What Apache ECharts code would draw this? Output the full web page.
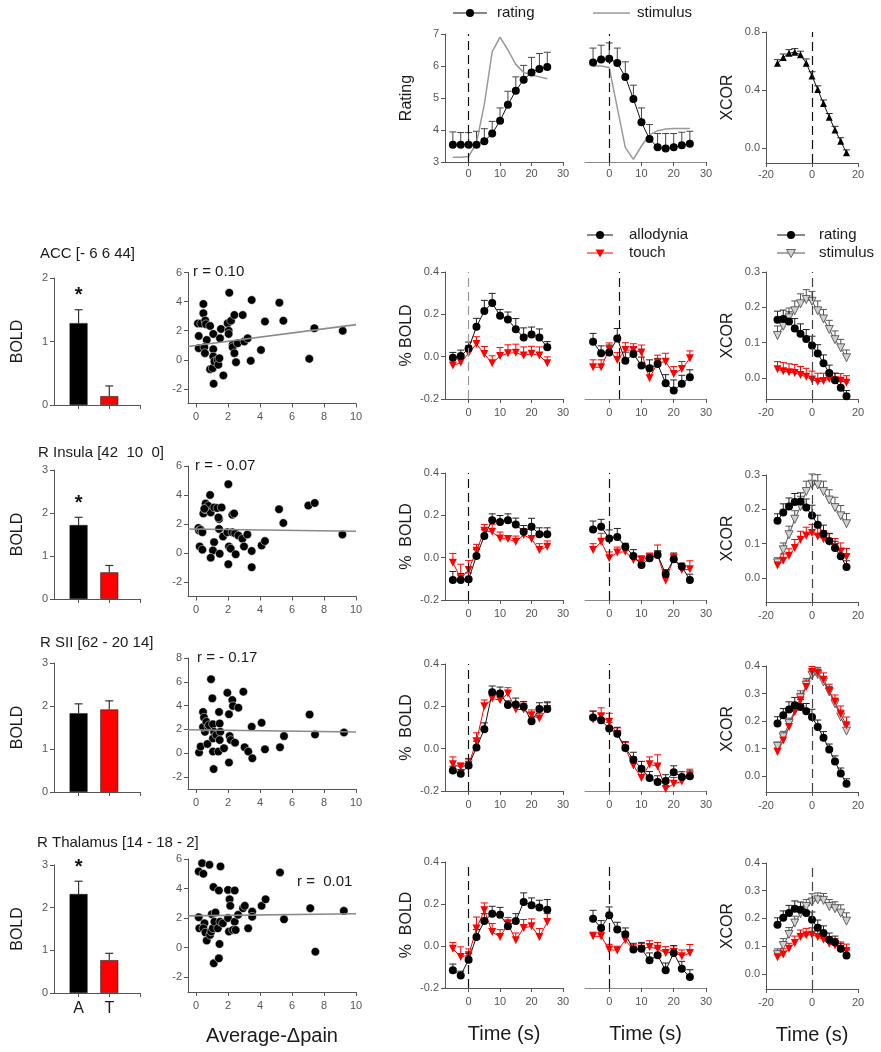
<!DOCTYPE html>
<html><head><meta charset="utf-8">
<script src="https://cdn.jsdelivr.net/npm/echarts@6/dist/echarts.min.js"></script>
<style>html,body{margin:0;padding:0;background:#fff}#c{width:881px;height:1052px}</style>
</head><body><div id="c"></div><script>
// ---------------- DATA ----------------
const timeLags = [-5,-2.5,0,2.5,5,7.5,10,12.5,15,17.5,20,22.5,25];
const xcorLags = [-15,-12.5,-10,-7.5,-5,-2.5,0,2.5,5,7.5,10,12.5,15];
const barLabels = ['A','T'];

// top row: ratings
const ratingOn = [3.54,3.54,3.54,3.54,3.65,3.89,4.29,4.79,5.23,5.57,5.80,5.91,5.97];
const ratingOnErr = [0.40,0.38,0.38,0.42,0.39,0.38,0.40,0.42,0.43,0.45,0.47,0.48,0.46];
const stimOn = [3.15,3.15,3.17,3.6,4.8,6.45,6.9,6.5,6.05,5.8,5.72,5.66,5.6];
const ratingOff = [6.11,6.2,6.23,6.09,5.66,4.97,4.24,3.72,3.46,3.42,3.46,3.52,3.57];
const ratingOffErr = [0.45,0.45,0.49,0.47,0.47,0.43,0.45,0.45,0.43,0.47,0.43,0.41,0.39];
const stimOff = [6.0,6.0,5.95,4.7,3.45,3.08,3.5,3.85,3.98,4.03,4.05,4.05,4.05];
const xcorTop = [0.585,0.624,0.654,0.661,0.643,0.585,0.497,0.405,0.308,0.215,0.127,0.049,-0.03];
const xcorTopErr = [0.025,0.025,0.025,0.025,0.025,0.03,0.03,0.025,0.025,0.025,0.025,0.025,0.02];

// region titles and correlation labels
const titles = ['ACC [- 6 6 44]','R Insula [42  10  0]','R SII [62 - 20 14]','R Thalamus [14 - 18 - 2]'];
const rLabels = ['r = 0.10','r = - 0.07','r = - 0.17','r =  0.01'];
const stars = [true,true,false,true];

// bars: [allodynia, touch]
const barACC = [1.29,0.14], barACCErr = [0.21,0.16];
const barIns = [1.72,0.62], barInsErr = [0.18,0.16];
const barSII = [1.83,1.92], barSIIErr = [0.22,0.20];
const barTha = [2.32,0.77], barThaErr = [0.30,0.16];

// scatter (Average-Δpain, BOLD)
const scatACC = [[0.17,1.64],[0.17,0.8],[0.12,2.5],[0.32,2.5],[0.46,3.2],[0.46,3.84],[0.58,2.7],[0.62,2.45],[0.67,1.37],[0.52,0.87],[0.56,0.46],[0.88,2.33],[1.08,1.78],[0.88,-0.64],[1.04,-0.57],[1.08,0.73],[1.08,0.23],[1.15,-0.11],[1.1,-1.64],[1.35,0],[1.4,-0.34],[1.46,0.11],[1.5,1.48],[1.56,2.12],[1.71,-1.07],[1.98,2.51],[2.04,2.0],[2.04,1.78],[2.08,4.61],[2.19,2.69],[2.29,1.03],[2.29,0.87],[2.4,3.08],[2.4,0.46],[2.5,-0.16],[2.6,1.14],[2.92,3.08],[3.02,1.26],[3.23,1.48],[3.48,4.11],[3.42,-0.07],[4.06,0.68],[4.31,2.63],[5.21,3.93],[5.46,2.69],[7.08,0.07],[7.4,2.17],[9.17,1.99]];
const scatIns = [[0.15,1.73],[0.19,1.55],[0.29,1.6],[0.4,1.43],[0.23,0.45],[0.4,0.23],[0.46,2.73],[0.56,3.02],[0.6,3.41],[0.77,3.25],[0.88,4.0],[0.92,2.8],[1.13,0.75],[1.06,0.18],[0.92,-0.32],[1.13,3.14],[1.33,3.1],[1.44,2.34],[1.44,1.66],[1.48,-0.05],[1.6,3.14],[1.69,1.14],[1.96,1.43],[2.02,4.75],[2.06,0.45],[2.02,-0.77],[2.17,0.3],[2.27,2.64],[2.38,2.73],[2.27,1.43],[2.44,1.36],[2.48,-0.09],[2.65,1.2],[2.9,0.98],[3.0,0.45],[3.21,1.27],[3.48,0.14],[3.48,-0.98],[4.1,0.52],[4.31,0.82],[5.19,3.02],[5.46,2.07],[7.02,3.27],[7.42,3.45],[9.15,1.27],[0.52,3.05],[1.4,2.45]];
const scatSII = [[0.19,0.06],[0.29,0.56],[0.44,3.47],[0.5,3.0],[0.56,1.8],[0.44,2.2],[0.65,2.64],[0.77,2.22],[0.81,2.36],[0.71,0.78],[0.94,6.22],[1.02,4.61],[1.06,2.44],[1.13,1.8],[1.06,1.25],[1.06,0.14],[1.1,-1.33],[1.27,1.53],[1.4,0.14],[1.44,3.47],[1.48,2.5],[1.52,1.8],[1.48,1.11],[1.75,0.42],[1.96,5.08],[2.06,3.28],[2.06,-0.78],[2.1,1.44],[2.17,1.11],[2.27,4.47],[2.31,3.97],[2.44,0.89],[2.65,3.83],[2.96,5.17],[3.04,0.5],[3.27,0.14],[3.48,2.22],[3.52,-0.42],[4.1,2.56],[4.31,0.33],[5.25,0.5],[5.5,1.44],[7.1,3.25],[7.44,1.58],[9.25,1.75]];
const scatTha = [[0.17,2.06],[0.17,5.16],[0.21,1.31],[0.38,5.72],[0.46,5.0],[0.53,1.65],[0.46,1.31],[0.59,1.02],[0.67,0.48],[0.84,5.61],[0.88,0.86],[0.95,1.09],[0.99,2.26],[1.05,1.31],[1.09,4.1],[1.11,-1.06],[1.15,1.76],[1.22,2.38],[1.37,1.31],[1.43,3.87],[1.47,0.25],[1.43,-0.72],[1.51,1.76],[1.53,5.5],[1.68,1.65],[2.0,3.91],[2.0,2.0],[2.06,1.09],[2.1,3.27],[2.14,2.83],[2.31,1.2],[2.42,3.87],[2.42,1.76],[2.48,1.2],[2.63,2.22],[2.94,2.67],[3.05,2.83],[3.26,1.31],[3.51,2.44],[3.51,2.1],[4.1,2.83],[4.35,3.27],[5.25,5.09],[5.5,1.92],[7.14,2.67],[7.46,-0.27],[9.24,2.49]];

// regression line end points
const fitACC = [[-0.5,0.92],[10,2.42]];
const fitIns = [[-0.5,1.66],[10,1.5]];
const fitSII = [[-0.5,1.98],[10,1.78]];
const fitTha = [[-0.5,2.15],[10,2.3]];

// BOLD time courses (onset / offset), allodynia (A) and touch (T)
const accOnA = [-0.005,0.003,0.039,0.141,0.216,0.254,0.193,0.176,0.13,0.091,0.105,0.091,0.044];
const accOnAErr = [0.025,0.028,0.03,0.04,0.05,0.045,0.03,0.035,0.05,0.045,0.035,0.04,0.027];
const accOnT = [-0.042,-0.028,0.016,0.06,0.013,-0.031,0.003,0.016,0.019,0.006,0.014,0.006,-0.031];
const accOnTErr = [0.035,0.03,0.035,0.034,0.035,0.035,0.04,0.04,0.04,0.04,0.035,0.04,0.03];
const accOffA = [0.07,0.016,0.02,0.086,-0.019,0.013,-0.042,-0.055,-0.035,-0.125,-0.16,-0.128,-0.097];
const accOffAErr = [0.04,0.035,0.035,0.047,0.04,0.03,0.04,0.04,0.027,0.04,0.05,0.04,0.035];
const accOffT = [-0.05,-0.05,0.035,-0.016,0.031,0.031,0.02,-0.102,-0.028,-0.024,-0.082,-0.058,-0.008];
const accOffTErr = [0.035,0.035,0.03,0.035,0.035,0.03,0.035,0.04,0.035,0.04,0.035,0.035,0.035];

const insOnA = [-0.105,-0.105,-0.102,0.008,0.102,0.177,0.169,0.177,0.157,0.122,0.146,0.111,0.111];
const insOnAErr = [0.04,0.03,0.03,0.03,0.03,0.03,0.03,0.03,0.03,0.03,0.04,0.03,0.03];
const insOnT = [-0.024,-0.097,-0.058,0.033,0.127,0.122,0.091,0.088,0.075,0.107,0.088,0.036,0.052];
const insOnTErr = [0.044,0.066,0.044,0.03,0.03,0.036,0.03,0.015,0.027,0.03,0.045,0.03,0.027];
const insOffA = [0.133,0.146,0.091,0.098,0.052,0.008,-0.035,-0.003,0.013,-0.077,-0.008,-0.042,-0.105];
const insOffAErr = [0.04,0.035,0.04,0.04,0.016,0.03,0.02,0.02,0.02,0.02,0.03,0.016,0.027];
const insOffT = [0.036,0.075,-0.003,0.025,0.028,-0.011,-0.011,0.002,0.013,-0.108,-0.003,-0.058,-0.055];
const insOffTErr = [0.03,0.04,0.03,0.025,0.02,0.015,0.02,0.02,0.047,0.05,0.02,0.02,0.04];

const siiOnA = [-0.103,-0.119,-0.079,0.005,0.092,0.266,0.261,0.206,0.209,0.198,0.13,0.187,0.187];
const siiOnAErr = [0.02,0.02,0.03,0.03,0.03,0.03,0.03,0.02,0.03,0.025,0.02,0.03,0.03];
const siiOnT = [-0.074,-0.087,-0.076,0.035,0.2,0.237,0.229,0.261,0.185,0.185,0.158,0.142,0.187];
const siiOnTErr = [0.035,0.02,0.03,0.04,0.03,0.03,0.03,0.027,0.03,0.03,0.025,0.025,0.035];
const siiOffA = [0.147,0.134,0.095,0.071,0.003,-0.052,-0.095,-0.138,-0.158,-0.153,-0.111,-0.134,-0.13];
const siiOffAErr = [0.03,0.03,0.03,0.03,0.03,0.035,0.035,0.03,0.03,0.03,0.03,0.025,0.025];
const siiOffT = [0.138,0.153,0.127,0.068,0,-0.079,-0.138,-0.074,-0.084,-0.19,-0.166,-0.155,-0.127];
const siiOffTErr = [0.04,0.04,0.04,0.03,0.03,0.04,0.03,0.035,0.055,0.03,0.03,0.03,0.03];

const thaOnA = [-0.116,-0.14,-0.065,0.043,0.119,0.154,0.149,0.094,0.119,0.21,0.194,0.183,0.173];
const thaOnAErr = [0.03,0.02,0.03,0.035,0.035,0.035,0.035,0.03,0.035,0.043,0.035,0.035,0.048];
const thaOnT = [-0.013,-0.052,-0.044,0.083,0.17,0.067,0.043,0.106,0.027,0.086,0.094,0.043,0.114];
const thaOnTErr = [0.03,0.048,0.03,0.055,0.035,0.04,0.035,0.03,0.035,0.04,0.035,0.04,0.04];
const thaOffA = [0.13,0.086,0.146,0.078,0.056,-0.017,-0.013,-0.068,-0.044,-0.116,-0.033,-0.108,-0.148];
const thaOffAErr = [0.04,0.035,0.04,0.035,0.03,0.03,0.03,0.035,0.035,0.035,0.035,0.035,0.035];
const thaOffT = [0.046,0.046,-0.017,-0.021,0.027,-0.017,-0.013,-0.005,-0.013,-0.033,-0.029,-0.049,-0.033];
const thaOffTErr = [0.02,0.02,0.025,0.02,0.025,0.025,0.025,0.03,0.03,0.03,0.03,0.03,0.04];

// cross-correlations: rating (R), stimulus (S), touch (T)
const accXR = [0.165,0.167,0.16,0.14,0.125,0.11,0.092,0.069,0.041,0.014,-0.007,-0.028,-0.052];
const accXRErr = [0.024,0.025,0.027,0.028,0.028,0.027,0.026,0.025,0.024,0.022,0.02,0.018,0.016];
const accXS = [0.12,0.146,0.17,0.19,0.21,0.222,0.217,0.19,0.167,0.137,0.108,0.085,0.057];
const accXSErr = [0.027,0.028,0.028,0.028,0.028,0.028,0.028,0.028,0.027,0.026,0.025,0.024,0.022];
const accXT = [0.024,0.019,0.016,0.014,0.008,0.003,-0.005,-0.011,-0.009,-0.003,-0.007,-0.008,-0.014];
const accXTErr = [0.022,0.024,0.024,0.024,0.024,0.024,0.024,0.024,0.022,0.022,0.02,0.02,0.02];

const insXR = [0.167,0.191,0.208,0.221,0.223,0.205,0.182,0.155,0.129,0.108,0.087,0.063,0.032];
const insXRErr = [0.02,0.025,0.025,0.025,0.025,0.025,0.03,0.028,0.025,0.022,0.02,0.02,0.018];
const insXS = [0.044,0.082,0.126,0.171,0.208,0.252,0.273,0.271,0.252,0.227,0.205,0.181,0.158];
const insXSErr = [0.015,0.02,0.025,0.025,0.03,0.03,0.03,0.03,0.03,0.03,0.03,0.03,0.03];
const insXT = [0.036,0.05,0.065,0.087,0.111,0.123,0.131,0.121,0.113,0.104,0.09,0.077,0.061];
const insXTErr = [0.015,0.02,0.02,0.025,0.025,0.025,0.025,0.025,0.025,0.025,0.025,0.025,0.025];

const siiXR = [0.191,0.221,0.242,0.258,0.251,0.236,0.215,0.179,0.14,0.097,0.054,0.01,-0.027];
const siiXRErr = [0.025,0.025,0.028,0.028,0.028,0.028,0.028,0.025,0.022,0.02,0.02,0.02,0.018];
const siiXS = [0.109,0.143,0.191,0.239,0.285,0.33,0.366,0.369,0.342,0.306,0.263,0.215,0.164];
const siiXSErr = [0.015,0.02,0.02,0.025,0.025,0.025,0.02,0.02,0.02,0.02,0.02,0.025,0.025];
const siiXT = [0.088,0.13,0.179,0.233,0.276,0.324,0.378,0.375,0.35,0.309,0.27,0.225,0.185];
const siiXTErr = [0.015,0.02,0.02,0.025,0.025,0.025,0.02,0.02,0.025,0.025,0.025,0.03,0.03];

const thaXR = [0.177,0.202,0.219,0.235,0.231,0.219,0.195,0.166,0.147,0.123,0.114,0.09,0.066];
const thaXRErr = [0.025,0.025,0.028,0.028,0.028,0.028,0.028,0.028,0.026,0.024,0.022,0.02,0.02];
const thaXS = [0.07,0.102,0.142,0.183,0.217,0.243,0.259,0.267,0.265,0.243,0.235,0.219,0.19];
const thaXSErr = [0.02,0.025,0.025,0.025,0.025,0.025,0.03,0.025,0.025,0.025,0.025,0.03,0.03];
const thaXT = [0.06,0.07,0.09,0.111,0.133,0.139,0.141,0.133,0.123,0.108,0.102,0.09,0.082];
const thaXTErr = [0.015,0.02,0.02,0.025,0.025,0.025,0.025,0.025,0.025,0.025,0.025,0.025,0.025];

// stimulus-onset/offset marker positions (s)
const onsetMark = [0,0,0,0];
const offsetMark = [3,0,0,0];

// tick values
const tcTicks = [0,10,20,30];
const xcTicks = [-20,0,20];
const scatXTicks = [0,2,4,6,8,10];
const boldTicks = [-0.2,0,0.2,0.4];
const ratingTicks = [3,4,5,6,7];
const xcTopTicks = [0,0.4,0.8];
const xcRowTicks = [[0,0.1,0.2,0.3],[0,0.1,0.2,0.3],[0,0.1,0.2,0.3,0.4],[0,0.1,0.2,0.3,0.4]];
const xcRowMin = [-0.06,-0.07,-0.057,-0.055];
const xcRowMax = [0.3,0.3,0.4,0.4];
const scatYTicks = [[-2,0,2,4,6],[-2,0,2,4,6],[-2,0,2,4,6,8],[-2,0,2,4,6]];
const scatYMax = [6,6,8,6];
const barYMax = [2,3,3,3];

// ---------------- BUILD ----------------
const FONT = '"Liberation Sans", Arial, Helvetica, sans-serif';
const grids = [], xAxis = [], yAxis = [], series = [], graphic = [];
const RED = '#ff0000';

function axis(o, gi) {
  return {
    type: 'value', gridIndex: gi, min: o.min, max: o.max, show: o.show !== false,
    axisLine: { show: o.line !== false, onZero: false, lineStyle: { color: o.lineColor || '#555', width: 1 } },
    axisTick: { show: !!o.ticks, length: 4, lineStyle: { color: '#555' }, customValues: o.ticks || undefined },
    axisLabel: { show: !!o.labels, customValues: o.labels || undefined, formatter: o.fmt,
      color: o.labelColor || '#555', fontSize: o.labelSize || 11, fontFamily: FONT, margin: o.margin || 6 },
    splitLine: { show: false },
    name: o.name || '', nameLocation: 'middle', nameGap: o.nameGap || 30,
    nameRotate: o.nameRotate, nameTextStyle: { fontSize: o.nameSize || 16, color: '#1a1a1a', fontFamily: FONT }
  };
}
function panel(pos, xo, yo) {
  const gi = grids.length;
  grids.push({ left: pos[0], top: pos[1], width: pos[2], height: pos[3], containLabel: false });
  xAxis.push(axis(xo, gi));
  yAxis.push(axis(yo, gi));
  return gi;
}
function dashLine(x, color) {
  return { silent: true, symbol: ['none', 'none'], label: { show: false }, animation: false,
    lineStyle: { type: [9, 5], color: color || '#111', width: 1.2 }, data: [{ xAxis: x }] };
}
function lineS(gi, xs, ys, st, mark) {
  const s = {
    type: 'line', xAxisIndex: gi, yAxisIndex: gi, data: xs.map((x, i) => [x, ys[i]]),
    symbol: st.symbol || 'none', showSymbol: !!st.symbol, symbolSize: st.size || 8, symbolRotate: st.rot || 0,
    lineStyle: { color: st.line, width: st.lw || 1 },
    itemStyle: { color: st.fill || st.line, borderColor: st.stroke || st.fill || st.line, borderWidth: st.bw || 0, opacity: 1 },
    z: 4, animation: false, silent: true
  };
  if (mark) s.markLine = mark;
  series.push(s);
}
function errS(gi, xs, ys, es, color) {
  series.push({
    type: 'custom', xAxisIndex: gi, yAxisIndex: gi, z: 3, animation: false, silent: true,
    data: xs.map((x, i) => [x, ys[i], ys[i] + es[i]]),
    renderItem: (p, api) => {
      const a = api.coord([api.value(0), api.value(1)]);
      const b = api.coord([api.value(0), api.value(2)]);
      return { type: 'group', children: [
        { type: 'line', shape: { x1: a[0], y1: a[1], x2: b[0], y2: b[1] }, style: { stroke: color, lineWidth: 1 } },
        { type: 'line', shape: { x1: b[0] - 3.5, y1: b[1], x2: b[0] + 3.5, y2: b[1] }, style: { stroke: color, lineWidth: 1 } }
      ]};
    }
  });
}
const STY = {
  A: { symbol: 'circle', size: 8, line: '#111', fill: '#000' },
  T: { symbol: 'triangle', rot: 180, size: 8, line: RED, fill: RED },
  S: { symbol: 'triangle', rot: 180, size: 8, line: '#555', fill: '#d0d0d0', stroke: '#444', bw: 0.8 }
};
const fmt1 = v => (Math.abs(v) < 1e-9 ? 0 : v).toFixed(1);

// ---- top row ----
{
  const g1 = panel([445, 34, 118, 128],
    { min: -7.5, max: 30, ticks: tcTicks, labels: tcTicks },
    { min: 3, max: 7, ticks: ratingTicks, labels: ratingTicks, name: 'Rating', nameGap: 30, nameRotate: 90 });
  lineS(g1, timeLags, stimOn, { line: '#999', lw: 1.5 }, dashLine(0));
  errS(g1, timeLags, ratingOn, ratingOnErr, '#444');
  lineS(g1, timeLags, ratingOn, STY.A);

  const g2 = panel([585, 34, 121, 128],
    { min: -7.5, max: 30, ticks: tcTicks, labels: tcTicks, lineColor: '#888' },
    { min: 3, max: 7, show: false });
  lineS(g2, timeLags, stimOff, { line: '#999', lw: 1.5 }, dashLine(0));
  errS(g2, timeLags, ratingOff, ratingOffErr, '#444');
  lineS(g2, timeLags, ratingOff, STY.A);

  const g3 = panel([766, 32, 92, 131],
    { min: -20, max: 20, ticks: xcTicks, labels: xcTicks },
    { min: -0.1, max: 0.8, ticks: xcTopTicks, labels: xcTopTicks, fmt: fmt1, name: 'XCOR', nameGap: 30, nameRotate: 90 });
  errS(g3, xcorLags, xcorTop, xcorTopErr, '#333');
  lineS(g3, xcorLags, xcorTop, { symbol: 'triangle', size: 7, line: '#111', fill: '#000' }, dashLine(0));
}

// ---- region rows ----
const rows = [
  { bar: barACC, barErr: barACCErr, pts: scatACC, fit: fitACC,
    onA: accOnA, onAE: accOnAErr, onT: accOnT, onTE: accOnTErr, offA: accOffA, offAE: accOffAErr, offT: accOffT, offTE: accOffTErr,
    xR: accXR, xRE: accXRErr, xS: accXS, xSE: accXSErr, xT: accXT, xTE: accXTErr },
  { bar: barIns, barErr: barInsErr, pts: scatIns, fit: fitIns,
    onA: insOnA, onAE: insOnAErr, onT: insOnT, onTE: insOnTErr, offA: insOffA, offAE: insOffAErr, offT: insOffT, offTE: insOffTErr,
    xR: insXR, xRE: insXRErr, xS: insXS, xSE: insXSErr, xT: insXT, xTE: insXTErr },
  { bar: barSII, barErr: barSIIErr, pts: scatSII, fit: fitSII,
    onA: siiOnA, onAE: siiOnAErr, onT: siiOnT, onTE: siiOnTErr, offA: siiOffA, offAE: siiOffAErr, offT: siiOffT, offTE: siiOffTErr,
    xR: siiXR, xRE: siiXRErr, xS: siiXS, xSE: siiXSErr, xT: siiXT, xTE: siiXTErr },
  { bar: barTha, barErr: barThaErr, pts: scatTha, fit: fitTha,
    onA: thaOnA, onAE: thaOnAErr, onT: thaOnT, onTE: thaOnTErr, offA: thaOffA, offAE: thaOffAErr, offT: thaOffT, offTE: thaOffTErr,
    xR: thaXR, xRE: thaXRErr, xS: thaXS, xSE: thaXSErr, xT: thaXT, xTE: thaXTErr }
];
// layout (pixels)
const barPos = [[54, 278, 86, 127], [54, 470, 86, 129], [54, 663, 86, 129], [54, 865, 86, 128]];
const scatPos = [[188, 272.5, 168, 131], [188, 466, 168, 130.5], [188, 658, 168, 131], [188, 859, 168, 133]];
const onPos = [[445, 272, 118, 127], [445, 473, 118, 127], [445, 664, 118, 127], [445, 862, 118, 126]];
const offPos = [[585, 272, 121, 127], [585, 473, 121, 127], [585, 664, 121, 127], [585, 862, 121, 126]];
const xcPos = [[766, 272, 92, 127], [766, 475, 92, 127], [766, 666, 92, 126], [766, 863, 92, 126]];
const titlePos = [[40, 254], [38, 453], [40, 643], [37, 843]];
const rPos = [[193, 272], [195, 466], [197, 658], [297, 882]];

rows.forEach((r, k) => {
  const last = k === rows.length - 1;
  // bar chart
  const gb = panel(barPos[k],
    { min: 0.2, max: 3, ticks: [1, 2, 3], labels: last ? [1, 2] : null, fmt: v => barLabels[Math.round(v) - 1] || '',
      labelSize: 16, labelColor: '#1a1a1a', margin: 8 },
    { min: 0, max: barYMax[k], ticks: k === 0 ? [0, 1, 2] : [0, 1, 2, 3], labels: k === 0 ? [0, 1, 2] : [0, 1, 2, 3],
      name: 'BOLD', nameGap: 28, nameRotate: 90 });
  series.push({ type: 'bar', xAxisIndex: gb, yAxisIndex: gb, barWidth: 18, animation: false, silent: true, z: 2,
    itemStyle: { borderColor: '#222', borderWidth: 0.6 },
    data: [{ value: [1, r.bar[0]], itemStyle: { color: '#000' } }, { value: [2, r.bar[1]], itemStyle: { color: RED } }] });
  series.push({ type: 'custom', xAxisIndex: gb, yAxisIndex: gb, z: 3, animation: false, silent: true,
    data: [[1, r.bar[0], r.bar[0] + r.barErr[0], stars[k] ? 1 : 0], [2, r.bar[1], r.bar[1] + r.barErr[1], 0]],
    renderItem: (p, api) => {
      const a = api.coord([api.value(0), api.value(1)]);
      const b = api.coord([api.value(0), api.value(2)]);
      const ch = [
        { type: 'line', shape: { x1: a[0], y1: a[1], x2: b[0], y2: b[1] }, style: { stroke: '#333', lineWidth: 1.2 } },
        { type: 'line', shape: { x1: b[0] - 4, y1: b[1], x2: b[0] + 4, y2: b[1] }, style: { stroke: '#333', lineWidth: 1.2 } }
      ];
      if (api.value(3)) ch.push({ type: 'text', x: b[0], y: b[1] - 4,
        style: { text: '*', fill: '#111', font: 'bold 20px ' + FONT, align: 'center', verticalAlign: 'bottom' } });
      return { type: 'group', children: ch };
    } });

  // scatter
  const gs = panel(scatPos[k],
    { min: -0.5, max: 10, ticks: scatXTicks, labels: scatXTicks, margin: 8,
      name: last ? 'Average-\u0394pain' : '', nameSize: 20, nameGap: 34 },
    { min: -3, max: scatYMax[k], ticks: scatYTicks[k], labels: scatYTicks[k] });
  series.push({ type: 'scatter', xAxisIndex: gs, yAxisIndex: gs, data: r.pts, symbolSize: 8.5, animation: false, silent: true,
    itemStyle: { color: '#000', borderColor: '#fff', borderWidth: 0.5, opacity: 1 }, z: 3 });
  series.push({ type: 'line', xAxisIndex: gs, yAxisIndex: gs, data: r.fit, showSymbol: false, symbol: 'none',
    lineStyle: { color: '#8a8a8a', width: 1.6 }, animation: false, silent: true, z: 4 });

  // onset time course
  const go = panel(onPos[k],
    { min: -7.5, max: 30, ticks: tcTicks, labels: tcTicks, margin: 8,
      name: last ? 'Time (s)' : '', nameSize: 20, nameGap: 36 },
    { min: -0.2, max: 0.4, ticks: boldTicks, labels: boldTicks, fmt: fmt1,
      name: k === 0 ? '% BOLD' : '%  BOLD', nameGap: 30, nameRotate: 90 });
  errS(go, timeLags, r.onT, r.onTE, RED);
  lineS(go, timeLags, r.onT, STY.T, dashLine(onsetMark[k], k === 0 ? '#999' : '#111'));
  errS(go, timeLags, r.onA, r.onAE, '#222');
  lineS(go, timeLags, r.onA, STY.A);

  // offset time course
  const gf = panel(offPos[k],
    { min: -7.5, max: 30, ticks: tcTicks, labels: tcTicks, lineColor: '#888', margin: 8,
      name: last ? 'Time (s)' : '', nameSize: 20, nameGap: 36 },
    { min: -0.2, max: 0.4, show: false });
  errS(gf, timeLags, r.offT, r.offTE, RED);
  lineS(gf, timeLags, r.offT, STY.T, dashLine(offsetMark[k]));
  errS(gf, timeLags, r.offA, r.offAE, '#222');
  lineS(gf, timeLags, r.offA, STY.A);

  // cross-correlation
  const gx = panel(xcPos[k],
    { min: -20, max: 20, ticks: xcTicks, labels: xcTicks, margin: 8,
      name: last ? 'Time (s)' : '', nameSize: 20, nameGap: 36 },
    { min: xcRowMin[k], max: xcRowMax[k], ticks: xcRowTicks[k], labels: xcRowTicks[k], fmt: fmt1,
      name: 'XCOR', nameGap: 30, nameRotate: 90 });
  errS(gx, xcorLags, r.xS, r.xSE, '#555');
  lineS(gx, xcorLags, r.xS, STY.S, dashLine(0, '#444'));
  errS(gx, xcorLags, r.xT, r.xTE, RED);
  lineS(gx, xcorLags, r.xT, STY.T);
  errS(gx, xcorLags, r.xR, r.xRE, '#222');
  lineS(gx, xcorLags, r.xR, STY.A);

  graphic.push({ type: 'text', x: titlePos[k][0], y: titlePos[k][1],
    style: { text: titles[k], fill: '#1a1a1a', font: '15px ' + FONT, verticalAlign: 'middle', align: 'left' } });
  graphic.push({ type: 'text', x: rPos[k][0], y: rPos[k][1],
    style: { text: rLabels[k], fill: '#1a1a1a', font: '15px ' + FONT, verticalAlign: 'middle', align: 'left' } });
});

// ---- legends (graphic) ----
function legendItem(x1, x2, y, color, lw, sym, text, tx) {
  const cx = (x1 + x2) / 2;
  graphic.push({ type: 'line', shape: { x1, y1: y, x2, y2: y }, style: { stroke: color, lineWidth: lw } });
  if (sym === 'dot') graphic.push({ type: 'circle', shape: { cx, cy: y, r: 4 }, style: { fill: '#000' } });
  if (sym === 'tri') graphic.push({ type: 'polygon', shape: { points: [[cx - 4.5, y - 3.5], [cx + 4.5, y - 3.5], [cx, y + 4.5]] }, style: { fill: RED } });
  if (sym === 'otri') graphic.push({ type: 'polygon', shape: { points: [[cx - 4.5, y - 3.5], [cx + 4.5, y - 3.5], [cx, y + 4.5]] }, style: { fill: '#d0d0d0', stroke: '#444', lineWidth: 0.8 } });
  graphic.push({ type: 'text', x: tx, y, style: { text, fill: '#1a1a1a', font: '15px ' + FONT, verticalAlign: 'middle', align: 'left' } });
}
legendItem(453, 487, 13, '#111', 1.2, 'dot', 'rating', 497);
legendItem(593, 630, 13, '#999', 1.5, null, 'stimulus', 637);
legendItem(587, 613, 235, '#111', 1, 'dot', 'allodynia', 629);
legendItem(587, 613, 253, RED, 1, 'tri', 'touch', 629);
legendItem(777, 805, 235, '#111', 1, 'dot', 'rating', 819);
legendItem(777, 805, 253, '#555', 1, 'otri', 'stimulus', 819);

const chart = echarts.init(document.getElementById('c'), null, { renderer: 'canvas' });
chart.setOption({ animation: false, backgroundColor: '#fff', grid: grids, xAxis, yAxis, series, graphic,
  textStyle: { fontFamily: FONT } });
</script></body></html>
